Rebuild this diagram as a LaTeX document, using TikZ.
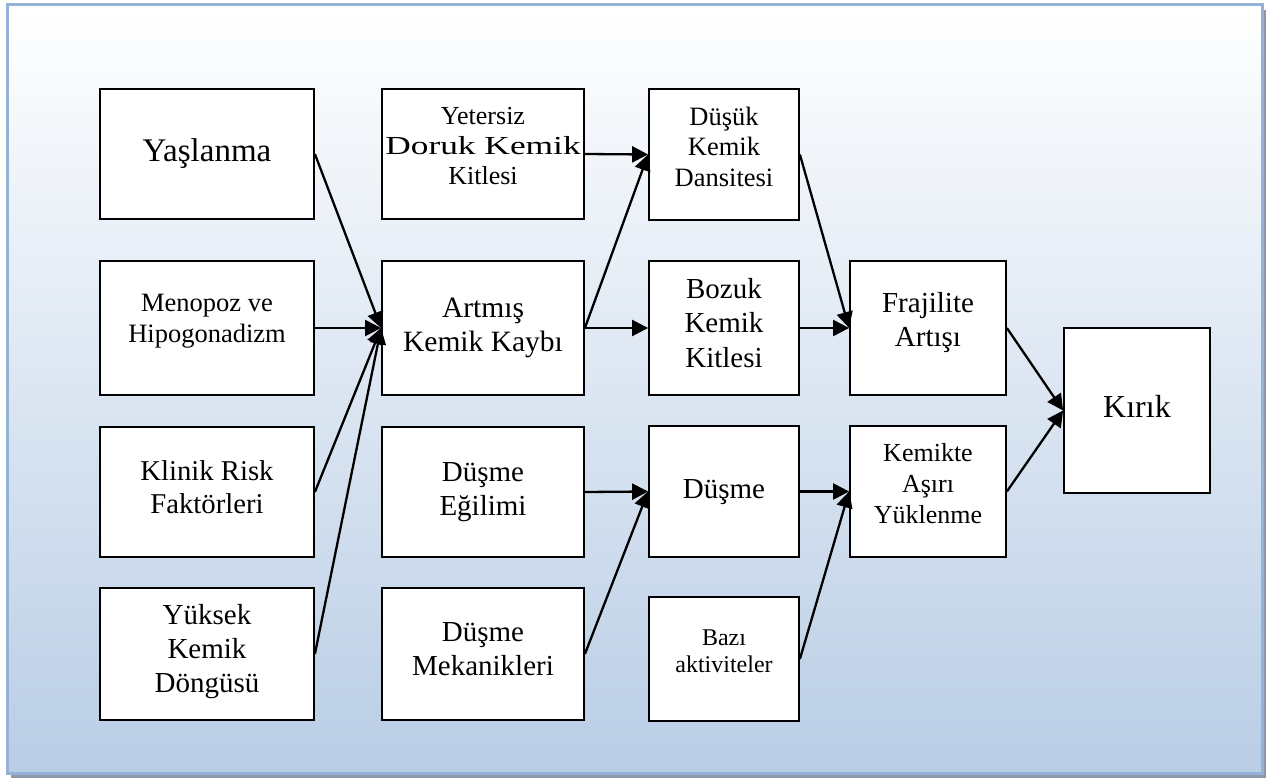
\documentclass[tikz,border=0pt]{standalone}
\usepackage{graphicx}
\usepackage{fontspec}
\setmainfont{Liberation Serif}
\usetikzlibrary{arrows.meta}
\definecolor{frameblue}{RGB}{149,179,215}
\definecolor{bgblue}{RGB}{185,205,229}
\definecolor{shadowgray}{RGB}{140,152,170}
% text block, optionally lifted without changing its size
\newcommand{\tx}[2][0pt]{\raisebox{#1}[\height][\depth]{\begin{tabular}{@{}c@{}}#2\end{tabular}}}
\begin{document}
\begin{tikzpicture}[x=1pt,y=-1pt,
  box/.style={draw=black, line width=1.8pt, fill=white, inner sep=0pt},
  cA/.style={minimum width=214pt},
  cB/.style={minimum width=202pt},
  cC/.style={minimum width=150pt},
  cD/.style={minimum width=156pt},
  arr/.style={line width=2.3pt, -{Triangle[length=16pt,width=16pt]}}]
\useasboundingbox (0,0) rectangle (1266,778);
% frame
\fill[shadowgray] (11,10) rectangle (1266,778);
\shade[top color=white, bottom color=bgblue] (7,5) rectangle (1262,773);
\draw[frameblue, line width=3pt] (7,5) rectangle (1262,773);
% column 1
\node[box, cA, minimum height=130pt, font=\fontsize{33}{38}\selectfont] (yas) at (207,154) {\tx{Yaşlanma}};
\node[box, cA, minimum height=134pt, font=\fontsize{26.5}{31}\selectfont] (men) at (207,328) {\tx[7pt]{Menopoz ve\\Hipogonadizm}};
\node[box, cA, minimum height=130pt, font=\fontsize{28.7}{33}\selectfont] (kli) at (207,492) {\tx[2pt]{Klinik Risk\\Faktörleri}};
\node[box, cA, minimum height=132pt, font=\fontsize{29}{34}\selectfont] (yuk) at (207,654) {\tx[2pt]{Yüksek\\Kemik\\Döngüsü}};
% column 2
\node[box, cB, minimum height=130pt, font=\fontsize{26}{30}\selectfont] (yet) at (483,154) {\tx[5pt]{Yetersiz\\\scalebox{1.36}[1]{Doruk Kemik}\\Kitlesi}};
\node[box, cB, minimum height=134pt, font=\fontsize{29.5}{33.5}\selectfont] (art) at (483,328) {\tx{Artmış\\Kemik Kaybı}};
\node[box, cB, minimum height=130pt, font=\fontsize{29}{34}\selectfont] (deg) at (483,492) {\tx{Düşme\\Eğilimi}};
\node[box, cB, minimum height=132pt, font=\fontsize{29}{34}\selectfont] (mek) at (483,654) {\tx[2pt]{Düşme\\Mekanikleri}};
% column 3
\node[box, cC, minimum height=131pt, font=\fontsize{26.5}{30.5}\selectfont] (dus) at (724,154.5) {\tx[5pt]{Düşük\\Kemik\\Dansitesi}};
\node[box, cC, minimum height=134pt, font=\fontsize{29}{34.5}\selectfont] (boz) at (724,328) {\tx[2pt]{Bozuk\\Kemik\\Kitlesi}};
\node[box, cC, minimum height=131pt, font=\fontsize{29}{34}\selectfont] (dsm) at (724,491.5) {\tx{Düşme}};
\node[box, cC, minimum height=124pt, font=\fontsize{24}{27}\selectfont] (baz) at (724,659) {\tx[5pt]{Bazı\\aktiviteler}};
% column 4
\node[box, cD, minimum height=134pt, font=\fontsize{29}{34}\selectfont] (fra) at (928,328) {\tx[5pt]{Frajilite\\Artışı}};
\node[box, cD, minimum height=131pt, font=\fontsize{26}{31}\selectfont] (kem) at (928,491.5) {\tx[5pt]{Kemikte\\Aşırı\\Yüklenme}};
% column 5
\node[box, minimum width=146pt, minimum height=165pt, font=\fontsize{32}{37}\selectfont] (kir) at (1137,410.5) {\tx{Kırık}};
% connectors
\draw[arr] (yas.east) -- (art.west);
\draw[arr] (men.east) -- (art.west);
\draw[arr] (kli.east) -- (art.west);
\draw[arr] (yuk.east) -- (art.west);
\draw[arr] (yet.east) -- (dus.west);
\draw[arr] (art.east) -- (dus.west);
\draw[arr] (art.east) -- (boz.west);
\draw[arr] (deg.east) -- (dsm.west);
\draw[arr] (mek.east) -- (dsm.west);
\draw[arr] (dus.east) -- (fra.west);
\draw[arr] (boz.east) -- (fra.west);
\draw[arr] (dsm.east) -- (kem.west);
\draw[arr] (baz.east) -- (kem.west);
\draw[arr] (fra.east) -- (kir.west);
\draw[arr] (kem.east) -- (kir.west);
\end{tikzpicture}
\end{document}
